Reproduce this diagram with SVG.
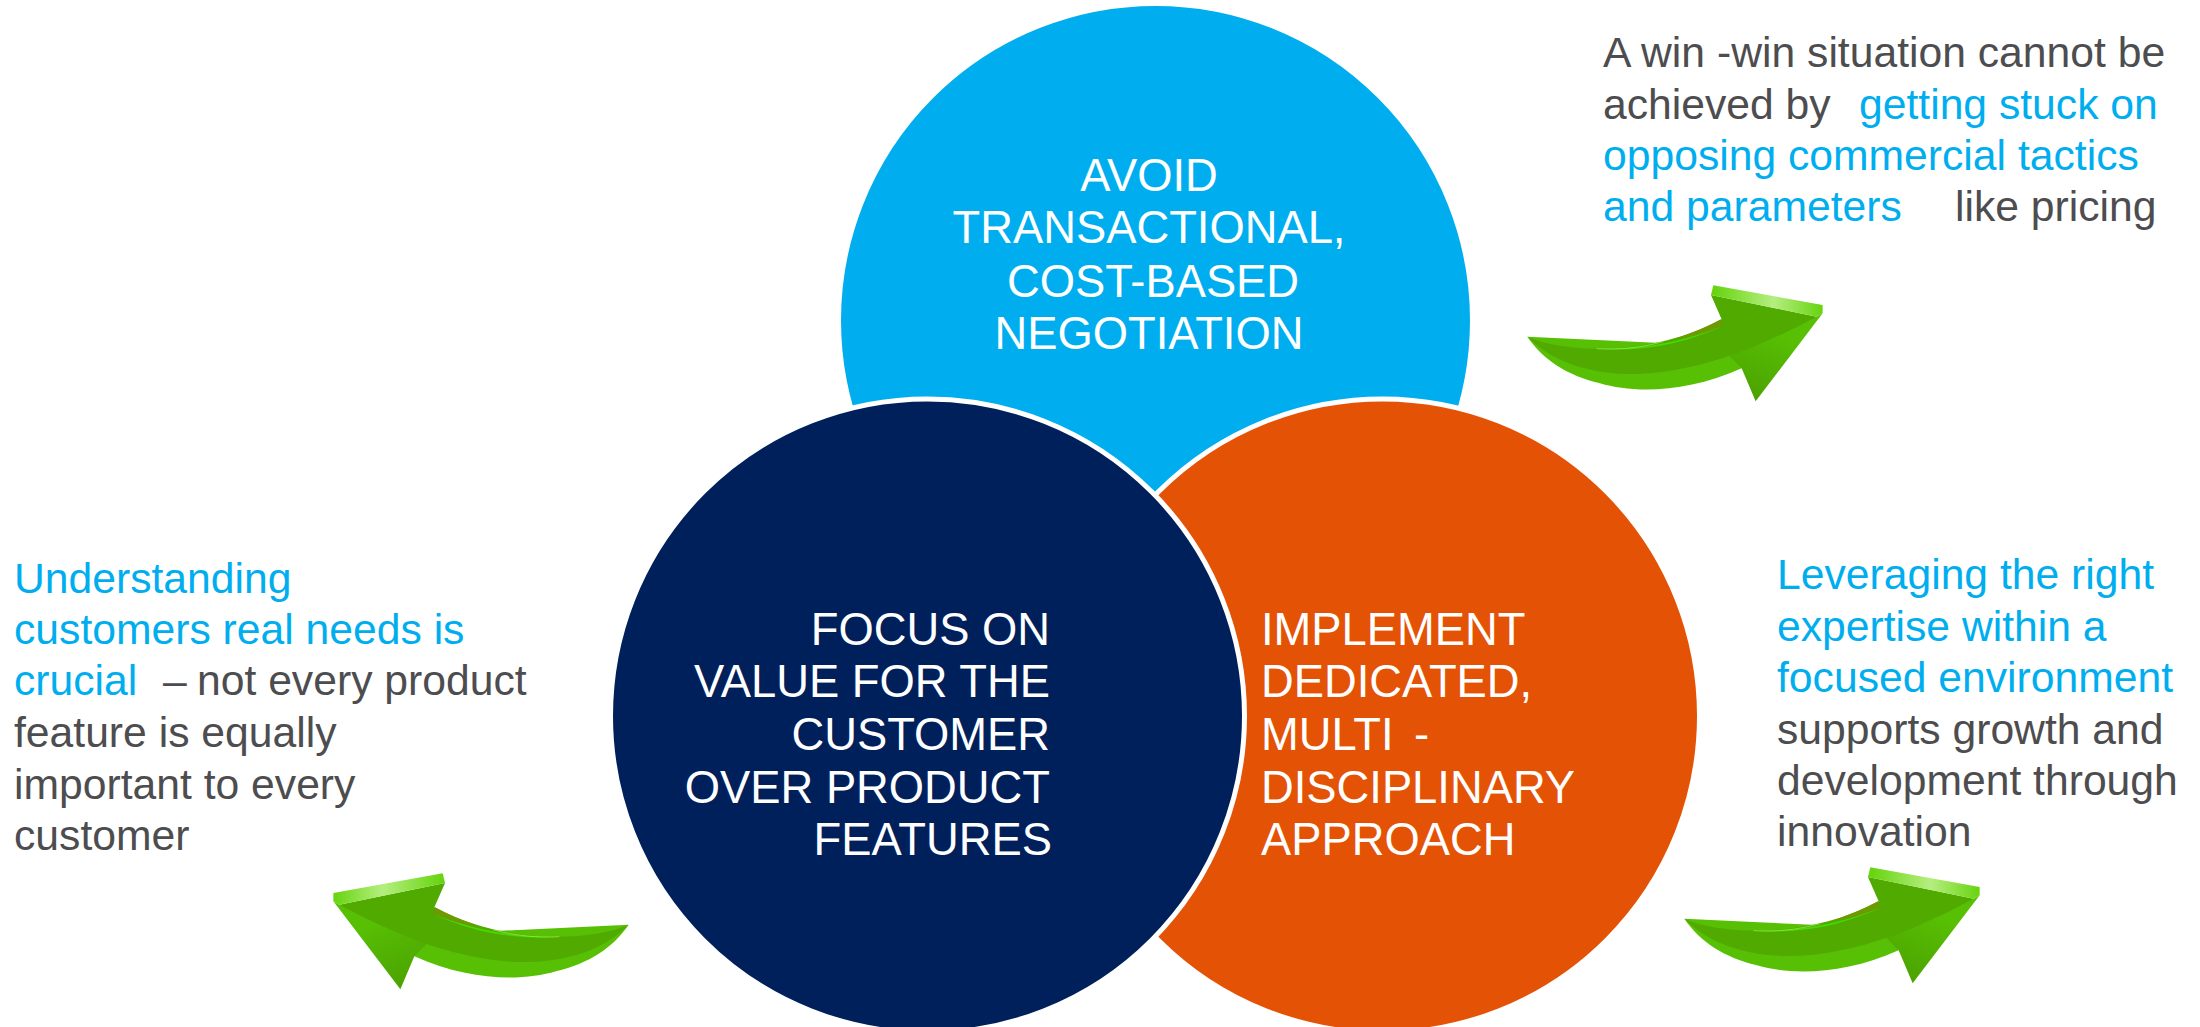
<svg xmlns="http://www.w3.org/2000/svg" width="2200" height="1027" viewBox="0 0 2200 1027">
<style>
text{font-family:"Liberation Sans",Arial,sans-serif}
.w{fill:#fff;font-size:45.33px}
.g{fill:#4d4d4f;font-size:42.67px}
.b{fill:#00aeef}
.c{stroke:#fff;stroke-width:5}
</style>
<defs>
<linearGradient id="bev" x1="640" y1="0" x2="968" y2="0" gradientUnits="userSpaceOnUse"><stop offset="0" stop-color="#66d40e"/><stop offset=".55" stop-color="#b5ee80"/><stop offset="1" stop-color="#66d40e"/></linearGradient>
<linearGradient id="tipg" x1="850" y1="220" x2="767" y2="424" gradientUnits="userSpaceOnUse"><stop offset="0" stop-color="#58c004"/><stop offset="1" stop-color="#4ba200"/></linearGradient>
<g id="arrow">
<path fill="#58c004" d="M82,230C130,300 200,345 300,370C400,400 560,400 725,325L950,170L500,250Z"/>
<path fill="url(#tipg)" d="M680,280L950,170L968,160L767,424L725,325Z"/>
<path fill="#50aa00" d="M82,230C170,272 440,300 665,178L633,105L950,170C800,250 600,340 400,342C300,342 170,320 82,230Z"/>
<path fill="url(#bev)" d="M640,76L968,135V160L950,170L633,105Z"/>
<path fill="#6d9a00" d="M530,235C580,218 625,198 663,178L670,195C620,218 575,235 530,235Z"/>
<path fill="#44dd00" d="M280,264C400,272 540,250 670,197C540,258 400,278 280,264Z"/>
<path fill="none" stroke="#a8ec60" stroke-width="2" d="M290,266C350,270 420,264 490,245"/>
</g>
</defs>
<g id="node-avoid"><circle class="c" cx="1155.500" cy="320.500" r="317" fill="#00aeef"/>
<text class="w" text-anchor="middle"><tspan x="1149" y="191">AVOID</tspan><tspan x="1149" y="243">TRANSACTIONAL,</tspan><tspan x="1153" y="297">COST-BASED</tspan><tspan x="1149" y="349">NEGOTIATION</tspan></text></g>
<g id="node-implement"><circle class="c" cx="1382.500" cy="716" r="317" fill="#e45205"/>
<text class="w"><tspan x="1261" y="645">IMPLEMENT</tspan><tspan x="1261" y="697">DEDICATED,</tspan><tspan x="1261" y="750">MULTI</tspan><tspan x="1414" y="750">-</tspan><tspan x="1261" y="803">DISCIPLINARY</tspan><tspan x="1261" y="855">APPROACH</tspan></text></g>
<g id="node-focus"><circle class="c" cx="927.500" cy="716" r="317" fill="#00205c"/>
<text class="w" text-anchor="end"><tspan x="1050" y="645">FOCUS ON</tspan><tspan x="1050" y="697">VALUE FOR THE</tspan><tspan x="1050" y="750">CUSTOMER</tspan><tspan x="1050" y="803">OVER PRODUCT</tspan><tspan x="1052" y="855">FEATURES</tspan></text></g>
<g id="connectors">
<use href="#arrow" transform="translate(1500,260) scale(.3333)"/>
<use href="#arrow" transform="translate(1657,842) scale(.3333)"/>
<use href="#arrow" transform="translate(656,848) scale(-.3333,.3333)"/>
</g>
<g id="note-top"><text class="g"><tspan x="1603" y="67">A win</tspan><tspan x="1717" y="67">-win situation cannot be</tspan><tspan x="1603" y="119">achieved by </tspan><tspan class="b" x="1859" y="119">getting stuck on</tspan><tspan class="b" x="1603" y="170">opposing commercial tactics</tspan><tspan class="b" x="1603" y="221">and parameters</tspan><tspan x="1955" y="221">like pricing</tspan></text></g>
<g id="note-left"><text class="g"><tspan class="b" x="14" y="593">Understanding</tspan><tspan class="b" x="14" y="644">customers real needs is</tspan><tspan class="b" x="14" y="695">crucial</tspan><tspan x="163" y="695">–</tspan><tspan x="197" y="695">not every product</tspan><tspan x="14" y="747">feature is equally</tspan><tspan x="14" y="799">important to every</tspan><tspan x="14" y="850">customer</tspan></text></g>
<g id="note-right"><text class="g"><tspan class="b" x="1777" y="589">Leveraging the right</tspan><tspan class="b" x="1777" y="641">expertise within a</tspan><tspan class="b" x="1777" y="692">focused environment</tspan><tspan x="1777" y="744">supports growth and</tspan><tspan x="1777" y="795">development through</tspan><tspan x="1777" y="846">innovation</tspan></text></g>
</svg>
